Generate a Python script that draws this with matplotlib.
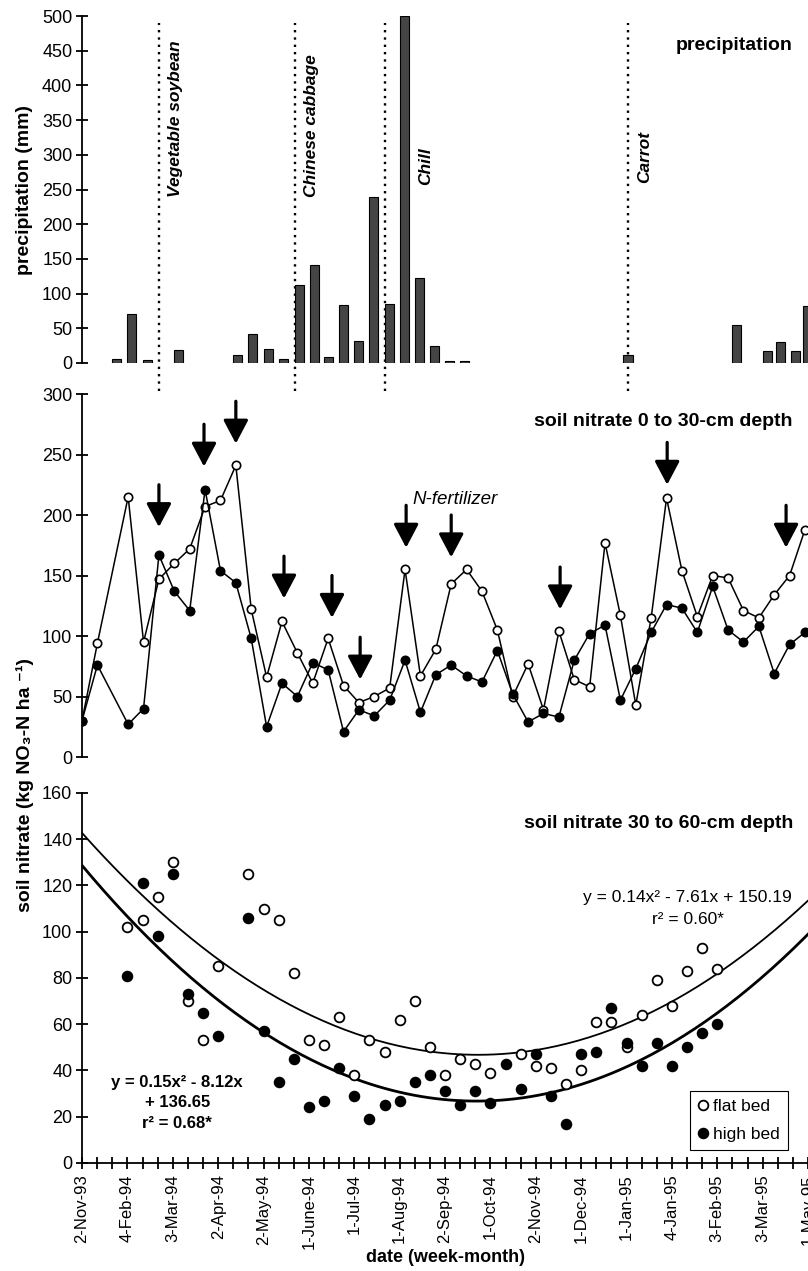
import numpy as np
import matplotlib
matplotlib.use("Agg")
import matplotlib.pyplot as plt

plt.rcParams['font.family'] = ['Liberation Sans', 'DejaVu Sans']

# ---- values ----
# shared date axis: one tick per sampling week, a label every third week
date_labels = ['2-Nov-93', '4-Feb-94', '3-Mar-94', '2-Apr-94', '2-May-94',
               '1-June-94', '1-Jul-94', '1-Aug-94', '2-Sep-94', '1-Oct-94',
               '2-Nov-94', '1-Dec-94', '1-Jan-95', '4-Jan-95', '3-Feb-95',
               '3-Mar-95', '1-May-95']

# precipitation (mm) per week
rain_week = [2.3, 3.3, 4.3, 6.35, 10.3, 11.3, 12.35, 13.35, 14.35, 15.35,
             16.3, 17.3, 18.3, 19.3, 20.3, 21.3, 22.3, 23.3, 24.3, 25.3,
             36.1, 43.25, 45.3, 46.2, 47.2, 47.95]
rain_mm = [6, 70, 4, 19, 12, 42, 20, 6, 112, 141,
           8, 83, 32, 239, 85, 500, 123, 24, 3, 3,
           12, 55, 17, 30, 18, 82]

# crop planting dates (dotted lines)
crops = ['Vegetable soybean', 'Chinese cabbage', 'Chill', 'Carrot']
crop_week = [5.1, 14.1, 20.0, 36.1]

# soil nitrate 0-30 cm (kg NO3-N/ha)
n030_week = [0, 1] + list(range(3, 48))
n030_flat = [30, 94, 215, 95, 147, 160, 172, 207, 212, 241, 122, 66, 112, 86,
             61, 98, 59, 45, 50, 57, 155, 67, 89, 143, 155, 137, 105, 50, 77,
             39, 104, 64, 58, 177, 117, 43, 115, 214, 154, 116, 150, 148, 121,
             115, 134, 150, 188]
n030_high = [30, 76, 27, 40, 167, 137, 121, 221, 154, 144, 98, 25, 61, 50,
             78, 72, 21, 39, 34, 47, 80, 37, 68, 76, 67, 62, 88, 52, 29,
             36, 33, 80, 102, 109, 47, 73, 103, 126, 123, 103, 141, 105, 95,
             108, 69, 93, 103]

# N-fertilizer applications (arrows)
fert_week = [5.0, 7.93, 10.0, 13.13, 16.25, 18.08, 21.07, 24.0, 31.08, 38.04, 45.77]
fert_tip = [190, 240, 259, 131, 115, 64, 173, 165, 122, 225, 173]

# soil nitrate 30-60 cm
n3060_week_flat = list(range(3, 10)) + list(range(11, 28)) + list(range(29, 43))
n3060_flat = [102, 105, 115, 130, 70, 53, 85, 125, 110, 105, 82, 53, 51, 63,
              38, 53, 48, 62, 70, 50, 38, 45, 43, 39, 47, 42, 41, 34, 40, 61,
              61, 50, 64, 79, 68, 83, 93, 84]
n3060_week_high = list(range(3, 10)) + list(range(11, 43))
n3060_high = [81, 121, 98, 125, 73, 65, 55, 106, 57, 35, 45, 24, 27, 41,
              29, 19, 25, 27, 35, 38, 31, 25, 31, 26, 43, 32, 47, 29, 17, 47,
              48, 67, 52, 42, 52, 42, 50, 56, 60]

# quadratic trend lines printed on the chart (x = week number, starting at 1)
fit_flat = (0.14, -7.61, 150.19)
fit_high = (0.15, -8.12, 136.65)

# ---- figure ----
fig = plt.figure(figsize=(8.08, 12.71), dpi=100)
L, W = 0.1015, 0.8985
ax1 = fig.add_axes([L, 0.7144, W, 0.2730])
ax2 = fig.add_axes([L, 0.4044, W, 0.2856])
ax3 = fig.add_axes([L, 0.0850, W, 0.2911])

for ax in (ax1, ax2, ax3):
    for s in ('top', 'right'):
        ax.spines[s].set_visible(False)
    ax.spines['left'].set_linewidth(1.3)
    ax.tick_params(axis='y', direction='inout', length=8, width=1.3,
                   labelsize=13, pad=3)
for ax in (ax1, ax2):
    ax.spines['bottom'].set_visible(False)
    ax.set_xticks([])

# precipitation
ax1.bar(rain_week, rain_mm, width=0.6, color='#454545', edgecolor='black',
        linewidth=0.8, zorder=3)
ax1.set_xlim(0, 48)
ax1.set_ylim(0, 500)
ax1.set_yticks(np.arange(0, 501, 50))
ax1.text(47.0, 458, 'precipitation', ha='right', va='center',
         fontsize=14, fontweight='bold')

# dotted lines run from the top panel down through the 0-30 cm panel
p1, p2 = ax1.get_position(), ax2.get_position()
ymin = (p2.y0 - p1.y0) / p1.height
for wk in crop_week:
    ax1.axvline(wk, ymin=ymin, ymax=0.98, color='black', lw=1.7,
                linestyle=(0, (1, 2.1)), clip_on=False, zorder=1)
crop_txt_y = [239, 239, 256, 259]
crop_txt_dx = [1.1, 1.1, 2.7, 1.1]
for name, wk, ty, dx in zip(crops, crop_week, crop_txt_y, crop_txt_dx):
    ax1.text(wk + dx, ty, name, rotation=90, ha='center', va='bottom',
             fontsize=12.5, fontweight='bold', fontstyle='italic')

# soil nitrate 0-30 cm
ax2.plot(n030_week, n030_flat, '-o', color='black', lw=1.1, ms=6,
         mfc='white', mec='black', mew=1.2, zorder=3)
ax2.plot(n030_week, n030_high, '-o', color='black', lw=1.1, ms=6,
         mfc='black', mec='black', mew=1.2, zorder=4)
for wk, tip in zip(fert_week, fert_tip):
    ax2.annotate('', xy=(wk, tip), xytext=(wk, tip + 35),
                 arrowprops=dict(arrowstyle='-|>,head_length=0.72,head_width=0.38',
                                 color='black', lw=2.3, mutation_scale=20,
                                 shrinkA=0, shrinkB=0), zorder=5)
ax2.set_xlim(0, 47.195)
ax2.set_ylim(0, 300)
ax2.set_yticks(np.arange(0, 301, 50))
ax2.text(46.2, 277, 'soil nitrate 0 to 30-cm depth', ha='right', va='center',
         fontsize=14, fontweight='bold')
ax2.text(21.5, 213, 'N-fertilizer', ha='left', va='center',
         fontsize=13.5, fontstyle='italic')

# soil nitrate 30-60 cm
xs = np.linspace(0, 48, 200)
for (a, b, c), lw in ((fit_flat, 1.3), (fit_high, 2.0)):
    ax3.plot(xs, a * (xs + 1) ** 2 + b * (xs + 1) + c, color='black', lw=lw,
             zorder=2)
ax3.plot(n3060_week_flat, n3060_flat, 'o', ls='none', ms=7, mfc='white',
         mec='black', mew=1.3, label='flat bed', zorder=3)
ax3.plot(n3060_week_high, n3060_high, 'o', ls='none', ms=7, mfc='black',
         mec='black', mew=1.3, label='high bed', zorder=4)
ax3.set_xlim(0, 48)
ax3.set_ylim(0, 160)
ax3.set_yticks(np.arange(0, 161, 20))
ax3.spines['bottom'].set_linewidth(1.3)
ax3.set_xticks(np.arange(0, 49, 3))
ax3.set_xticklabels(date_labels, rotation=90, fontsize=12)
ax3.set_xticks(np.arange(0, 49), minor=True)
ax3.tick_params(axis='x', which='both', direction='inout', length=8,
                width=1.3, pad=4)
ax3.text(47.0, 147, 'soil nitrate 30 to 60-cm depth', ha='right',
         va='center', fontsize=14, fontweight='bold')
ax3.text(46.94, 115, 'y = 0.14x\u00b2 - 7.61x + 150.19', ha='right',
         va='center', fontsize=12.5)
ax3.text(40.07, 105.4, 'r\u00b2 = 0.60*', ha='center', va='center',
         fontsize=12.5)
ax3.text(6.3, 26, 'y = 0.15x\u00b2 - 8.12x\n+ 136.65\nr\u00b2 = 0.68*',
         ha='center', va='center', fontsize=12, fontweight='bold',
         linespacing=1.45)
leg = ax3.legend(loc='lower right', bbox_to_anchor=(0.972, 0.035),
                 fontsize=12.5, frameon=True, fancybox=False, framealpha=1,
                 edgecolor='black', handlelength=0.6, handletextpad=0.3,
                 borderpad=0.45, labelspacing=0.75, borderaxespad=0)
leg.get_frame().set_linewidth(0.8)

fig.text(25 / 808, 1 - 190 / 1271, 'precipitation (mm)', rotation=90,
         ha='center', va='center', fontsize=14, fontweight='bold')
fig.text(25 / 808, 1 - 785 / 1271, 'soil nitrate (kg NO\u2083-N ha \u207b\u00b9)',
         rotation=90, ha='center', va='center', fontsize=14, fontweight='bold')
fig.text(445 / 808, 1 - 1258 / 1271, 'date (week-month)', ha='center',
         va='center', fontsize=13, fontweight='bold')

fig.savefig('out.png', dpi=100)
